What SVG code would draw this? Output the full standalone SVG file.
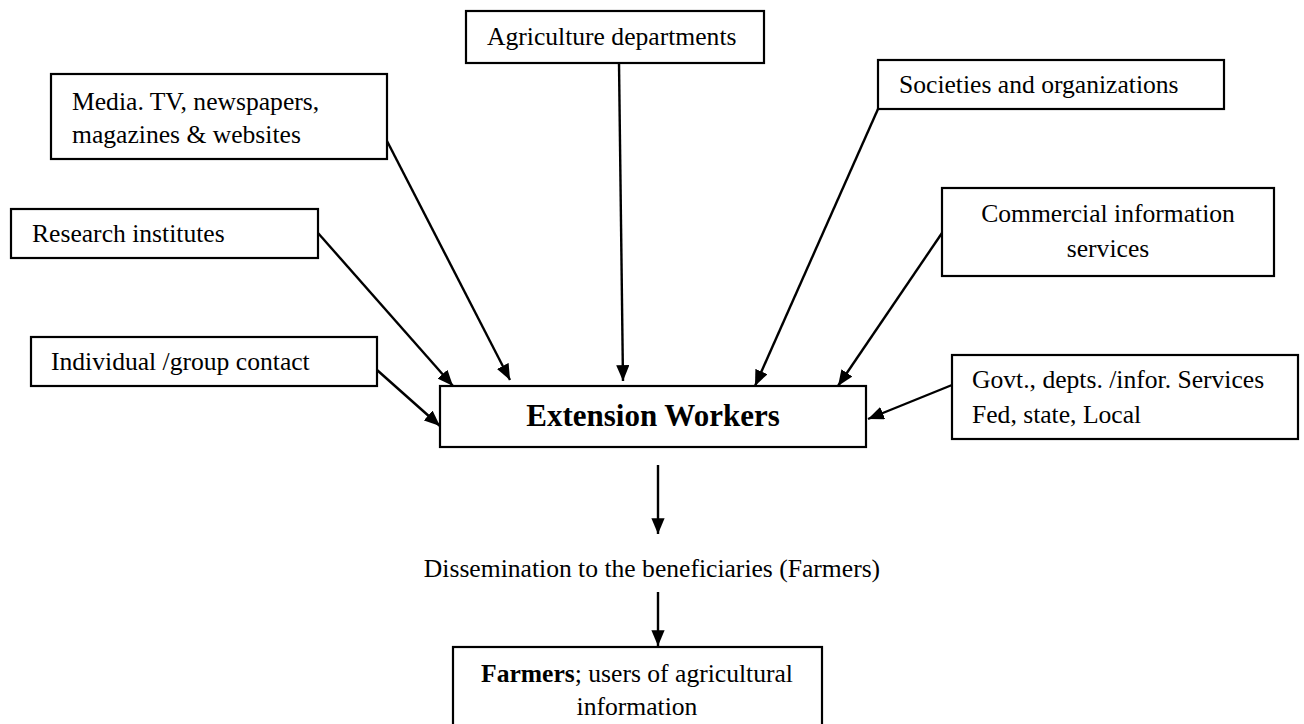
<svg xmlns="http://www.w3.org/2000/svg" width="1304" height="724" viewBox="0 0 1304 724">
<style>
  .box { fill: #ffffff; stroke: #000000; stroke-width: 2.2; }
  .t { font-family: "Liberation Serif", "Times New Roman", serif; font-size: 25.6px; fill: #000000; }
  .c { text-anchor: middle; }
  .b { font-weight: bold; }
  .big { font-size: 31px; font-weight: bold; }
  .con { stroke: #000000; stroke-width: 2.4; fill: none; marker-end: url(#ah); }
</style>
<defs>
  <marker id="ah" viewBox="0 0 12 10" refX="12" refY="5" markerWidth="6.6" markerHeight="5.5" markerUnits="strokeWidth" orient="auto">
    <path d="M0,0 L12,5 L0,10 Z" fill="#000000"/>
  </marker>
</defs>
<rect width="1304" height="724" fill="#ffffff"/>

<g id="connectors">
  <line class="con" x1="619" y1="63" x2="623" y2="381"/>
  <line class="con" x1="387" y1="141" x2="510" y2="380"/>
  <line class="con" x1="318" y1="233" x2="453" y2="386"/>
  <line class="con" x1="377" y1="370" x2="440" y2="426"/>
  <line class="con" x1="878" y1="109" x2="755" y2="386"/>
  <line class="con" x1="942" y1="233" x2="838" y2="386"/>
  <line class="con" x1="952" y1="385" x2="868" y2="419"/>
  <line class="con" x1="658" y1="465" x2="658" y2="534"/>
  <line class="con" x1="658" y1="592" x2="658" y2="646"/>
</g>

<g id="agriculture">
  <rect class="box" x="466" y="11" width="298" height="52"/>
  <text class="t" x="487" y="45">Agriculture departments</text>
</g>

<g id="media">
  <rect class="box" x="51" y="74" width="336" height="85"/>
  <text class="t" x="72" y="110">Media. TV, newspapers,</text>
  <text class="t" x="72" y="143">magazines &amp; websites</text>
</g>

<g id="research">
  <rect class="box" x="11" y="209" width="307" height="49"/>
  <text class="t" x="32" y="242">Research institutes</text>
</g>

<g id="individual">
  <rect class="box" x="31" y="337" width="346" height="49"/>
  <text class="t" x="51" y="370">Individual /group contact</text>
</g>

<g id="societies">
  <rect class="box" x="878" y="60" width="346" height="49"/>
  <text class="t" x="899" y="93">Societies and organizations</text>
</g>

<g id="commercial">
  <rect class="box" x="942" y="188" width="332" height="88"/>
  <text class="t c" x="1108" y="222">Commercial information</text>
  <text class="t c" x="1108" y="257">services</text>
</g>

<g id="govt">
  <rect class="box" x="952" y="355" width="346" height="84"/>
  <text class="t" x="972" y="388">Govt., depts. /infor. Services</text>
  <text class="t" x="972" y="423">Fed, state, Local</text>
</g>

<g id="extension">
  <rect class="box" x="440" y="386" width="426" height="61"/>
  <text class="t big c" x="653" y="426">Extension Workers</text>
</g>

<g id="dissemination">
  <text class="t c" x="652" y="577">Dissemination to the beneficiaries (Farmers)</text>
</g>

<g id="farmers">
  <rect class="box" x="453" y="647" width="369" height="90"/>
  <text class="t c" x="637" y="682"><tspan class="b">Farmers</tspan>; users of agricultural</text>
  <text class="t c" x="637" y="715">information</text>
</g>
</svg>
